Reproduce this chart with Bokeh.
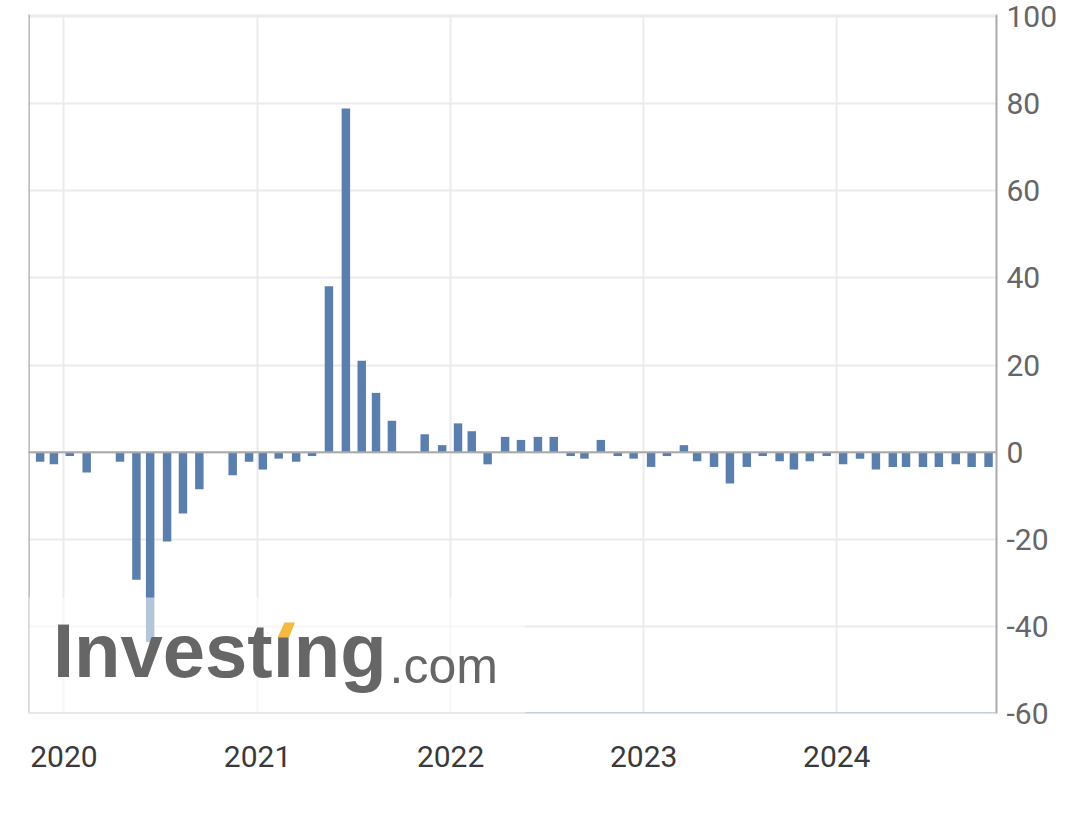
import pandas as pd
from bokeh.plotting import figure
from bokeh.models import (Range1d, FixedTicker, DatetimeTickFormatter, Span,
                          BoxAnnotation, Label, PolyAnnotation, ColumnDataSource)
from bokeh.embed import file_html
from bokeh.resources import INLINE

# ---- data ----
months = [
    "2019-11-17", "2019-12-13", "2020-01-12", "2020-02-13", "2020-04-16",
    "2020-05-17", "2020-06-12", "2020-07-14", "2020-08-13", "2020-09-13",
    "2020-11-15", "2020-12-16", "2021-01-11", "2021-02-10", "2021-03-15",
    "2021-04-14", "2021-05-16", "2021-06-17", "2021-07-17", "2021-08-13",
    "2021-09-12", "2021-11-13", "2021-12-16", "2022-01-15", "2022-02-10",
    "2022-03-12", "2022-04-14", "2022-05-14", "2022-06-15", "2022-07-15",
    "2022-08-16", "2022-09-11", "2022-10-12", "2022-11-13", "2022-12-13",
    "2023-01-15", "2023-02-14", "2023-03-18", "2023-04-12", "2023-05-14",
    "2023-06-13", "2023-07-15", "2023-08-14", "2023-09-15", "2023-10-12",
    "2023-11-11", "2023-12-13", "2024-01-13", "2024-02-14", "2024-03-15",
    "2024-04-16", "2024-05-11", "2024-06-12", "2024-07-12", "2024-08-13",
    "2024-09-12", "2024-10-14",
]
values = [
    -2.2, -2.8, -0.9, -4.7, -2.2,
    -29.3, -43.6, -20.5, -14.1, -8.5,
    -5.3, -2.2, -4.0, -1.5, -2.2,
    -0.9, 38.1, 78.9, 21.0, 13.6,
    7.2, 4.1, 1.6, 6.6, 4.8,
    -2.8, 3.5, 2.8, 3.5, 3.5,
    -0.9, -1.5, 2.8, -0.9, -1.5,
    -3.4, -0.9, 1.6, -2.1, -3.4,
    -7.2, -3.4, -0.9, -2.1, -4.0,
    -2.1, -0.9, -2.8, -1.5, -4.0,
    -3.4, -3.4, -3.4, -3.4, -2.8,
    -3.4, -3.4,
]
year_ticks = ["2020-01-01", "2021-01-01", "2022-01-01", "2023-01-01", "2024-01-01"]
y_ticks = [-60, -40, -20, 0, 20, 40, 60, 80, 100]


def ms(d):
    return pd.Timestamp(d).value / 1e6


DAY = 86400000.0
BAR = "#5b7fad"

x_start, x_end = ms("2019-10-26"), ms("2024-10-29")
y_start, y_end = -60, 100.46

# frame geometry (pixels in the figure)
FL, FR, FT, FB = 28, 996, 14, 713


def dx(px):  # figure pixel -> data x (for the watermark decoration)
    return x_start + (px - FL) / (FR - FL) * (x_end - x_start)


def dy(py):  # figure pixel -> data y (for the watermark decoration)
    return y_end - (py - FT) / (FB - FT) * (y_end - y_start)


src = ColumnDataSource(dict(x=pd.to_datetime(months), top=values))

W, H = 1064, 820
p = figure(width=W, height=H, x_axis_type="datetime", y_axis_location="right",
           x_range=Range1d(x_start, x_end), y_range=Range1d(y_start, y_end),
           output_backend="svg", toolbar_location=None,
           min_border_left=FL, min_border_top=FT, min_border_right=W - FR,
           min_border_bottom=H - FB)
p.outline_line_color = None
p.background_fill_color = "white"
p.border_fill_color = "white"

xt = FixedTicker(ticks=[ms(t) for t in year_ticks])
yt = FixedTicker(ticks=y_ticks)
p.xaxis.ticker = xt
p.xgrid.ticker = xt
p.yaxis.ticker = yt
p.ygrid.ticker = yt
fmt = "%Y"
p.xaxis.formatter = DatetimeTickFormatter(years=fmt, months=fmt, days=fmt, hours=fmt,
                                          minutes=fmt, seconds=fmt, milliseconds=fmt,
                                          microseconds=fmt, hourmin=fmt, minsec=fmt)
p.yaxis.major_label_overrides = {v: str(v) for v in y_ticks}

for g in (p.xgrid, p.ygrid):
    g.grid_line_color = "#ebebeb"
    g.grid_line_width = 2

p.xaxis.axis_line_color = None
p.xaxis.major_tick_line_color = None
p.xaxis.minor_tick_line_color = None
p.xaxis.major_label_text_font = "Roboto"
p.xaxis.major_label_text_font_size = "30px"
p.xaxis.major_label_text_color = "#3a3a3a"
p.xaxis.major_label_standoff = 26

p.yaxis.axis_line_color = "#aaaaaa"
p.yaxis.axis_line_width = 2
p.yaxis.major_tick_line_color = None
p.yaxis.minor_tick_line_color = None
p.yaxis.major_tick_out = 0
p.yaxis.major_tick_in = 0
p.yaxis.major_label_text_font = "Roboto"
p.yaxis.major_label_text_font_size = "30px"
p.yaxis.major_label_text_color = "#666666"
p.yaxis.major_label_standoff = 10

p.vbar(x="x", top="top", bottom=0, width=16 * DAY, source=src,
       fill_color=BAR, line_color=None)

# frame borders
p.add_layout(Span(location=y_end, dimension="width", line_color="#e6e6e6", line_width=2))
p.add_layout(Span(location=x_start, dimension="height", line_color="#aaaaaa", line_width=2.5))
p.add_layout(Span(location=y_start, dimension="width", line_color="#c3cdd8", line_width=3))
p.add_layout(Span(location=0, dimension="width", line_color="#aaaaaa", line_width=2))

# watermark
p.add_layout(BoxAnnotation(right=dx(525), top=dy(597), fill_color="white",
                           fill_alpha=0.55, line_color=None))
p.add_layout(Label(x=dx(52.5), y=dy(650), text="Investıng",
                   text_font="Liberation Sans", text_font_style="bold",
                   text_font_size="76px", text_color="#666666",
                   text_baseline="alphabetic"))
p.add_layout(Label(x=dx(389), y=dy(665), text=".com",
                   text_font="Liberation Sans", text_font_size="50px",
                   text_color="#666666", text_baseline="alphabetic"))
p.add_layout(PolyAnnotation(xs=[dx(284), dx(294.5), dx(288.5), dx(277)],
                            ys=[dy(622), dy(622), dy(637), dy(637)],
                            fill_color="#f6b940", fill_alpha=1.0, line_color=None))

open("out.html", "w").write(file_html(p, INLINE))
